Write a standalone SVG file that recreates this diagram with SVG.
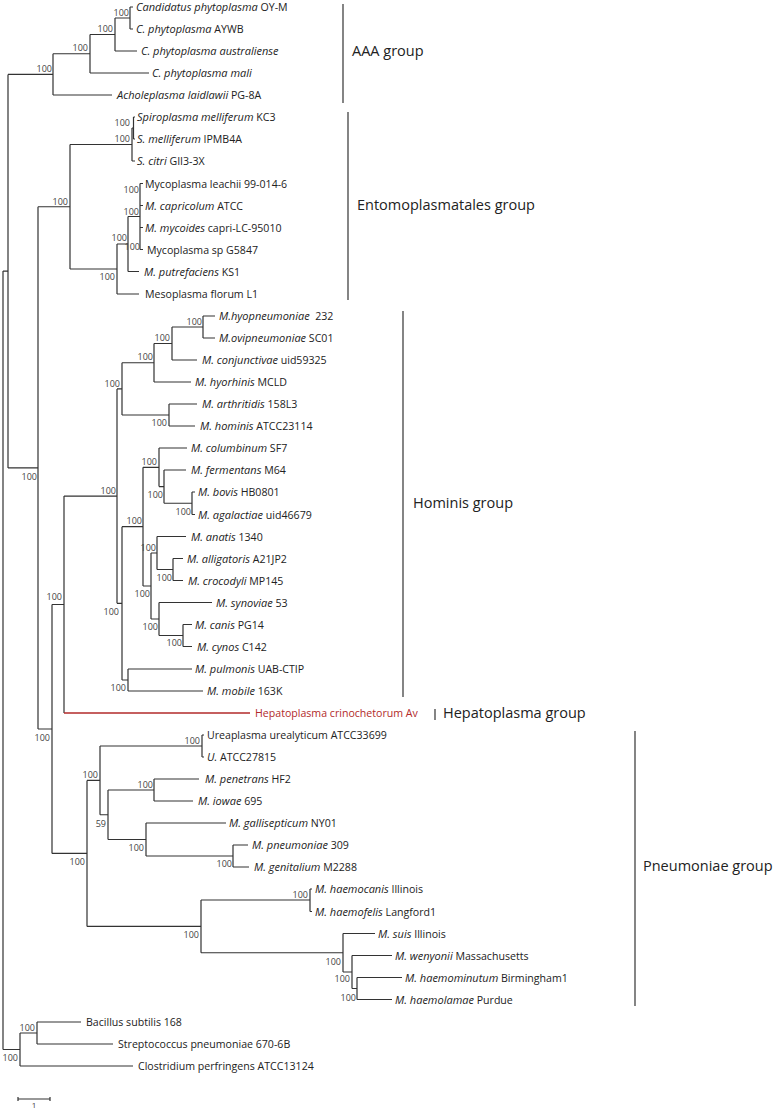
<svg xmlns="http://www.w3.org/2000/svg" width="775" height="1110" viewBox="0 0 775 1110">
<style>
.b{fill:none;stroke:#333;stroke-width:1.2}
.r{fill:none;stroke:#b22a2a;stroke-width:1.5}
.t{font-family:"Open Sans","Noto Sans","DejaVu Sans",sans-serif;font-size:10.6px;fill:#222}
.i{font-style:italic;font-size:11px}
.bs{font-family:"Open Sans","Noto Sans","DejaVu Sans",sans-serif;font-size:9px;fill:#444;text-anchor:end}
.g{font-family:"Open Sans","Noto Sans","DejaVu Sans",sans-serif;font-size:14.5px;fill:#222}
.red{fill:#b22a2a}
</style>
<rect width="775" height="1110" fill="#fff"/>
<g id="connectors" class="b">
<path d="M130,7V29M130,7H133M130,29H133"/>
<path d="M115,18V51M115,18H130M115,51H137"/>
<path d="M90,34.5V73M90,34.5H115M90,73H149"/>
<path d="M53,53.75V95M53,53.75H90M53,95H112"/>
<path d="M8,74.4V467.9M8,74.4H53M8,467.9H38"/>
<path d="M3,271.1V1049.5M3,271.1H8M3,1049.5H20"/>
<path d="M38,206.75V729M38,206.75H70M38,729H52"/>
<path d="M70,144.5V269M70,144.5H132M70,269H117"/>
<path d="M132,128V161M132,128H133.5M132,161H135"/>
<path d="M133.5,117V139M133.5,117H135M133.5,139H135"/>
<path d="M117,244V294M117,244H128M117,294H139"/>
<path d="M128,216.5V271.5M128,216.5H140M128,271.5H139"/>
<path d="M140,183.5V249.5M140,183.5H143M140,205.5H143M140,227.5H143M140,249.5H143"/>
<path d="M52,604.5V853.4M52,604.5H64M52,853.4H87"/>
<path d="M64,496.1V713M64,496.1H117"/>
<path d="M117,388.9V603.3M117,388.9H122M117,603.3H122"/>
<path d="M122,362.75V415M122,362.75H154M122,415H169"/>
<path d="M154,343.5V382M154,343.5H172M154,382H191"/>
<path d="M172,327V360M172,327H203M172,360H197"/>
<path d="M203,316V338M203,316H215M203,338H215"/>
<path d="M169,404V426M169,404H197M169,426H195"/>
<path d="M122,526.7V680M122,526.7H143M122,680H128"/>
<path d="M143,467.3V586M143,467.3H159M143,586H151"/>
<path d="M159,448V486.6M159,448H187M159,486.6H164"/>
<path d="M164,470V503.25M164,470H186M164,503.25H192"/>
<path d="M192,492V514.5M192,492H195M192,514.5H195"/>
<path d="M151,553V619M151,553H157M151,619H159"/>
<path d="M157,536.5V569.5M157,536.5H186M157,569.5H173"/>
<path d="M173,558.5V580.5M173,558.5H183M173,580.5H183"/>
<path d="M159,602.5V635.5M159,602.5H212M159,635.5H183"/>
<path d="M183,624.5V646.5M183,624.5H192M183,646.5H192"/>
<path d="M128,669V691M128,669H192M128,691H203"/>
<path d="M87,780.4V926.4M87,780.4H100M87,926.4H201"/>
<path d="M100,746V814.75M100,746H202M100,814.75H108"/>
<path d="M202,735V757M202,735H204M202,757H204"/>
<path d="M108,790V839.5M108,790H154M108,839.5H146"/>
<path d="M154,779V801M154,779H199M154,801H193"/>
<path d="M146,823V856M146,823H226M146,856H233"/>
<path d="M233,845V867M233,845H248M233,867H249"/>
<path d="M201,900V952.75M201,900H310M201,952.75H343"/>
<path d="M310,889V911.5M310,889H312M310,911.5H312"/>
<path d="M343,933.5V972M343,933.5H375M343,972H352"/>
<path d="M352,955.5V988.5M352,955.5H392M352,988.5H357"/>
<path d="M357,977.5V999.5M357,977.5H402M357,999.5H392"/>
<path d="M20,1033V1066M20,1033H37M20,1066H133"/>
<path d="M37,1022V1044M37,1022H81M37,1044H113"/>
<path class="r" d="M64,713H250"/>
</g>
<g id="bootstrap">
<text class="bs" x="129" y="15.5">100</text>
<text class="bs" x="113" y="32">100</text>
<text class="bs" x="88" y="51.2">100</text>
<text class="bs" x="52" y="72">100</text>
<text class="bs" x="130" y="126">100</text>
<text class="bs" x="130" y="142">100</text>
<text class="bs" x="139" y="193">100</text>
<text class="bs" x="139" y="215">100</text>
<text class="bs" x="140" y="250">100</text>
<text class="bs" x="127" y="241">100</text>
<text class="bs" x="115" y="280">100</text>
<text class="bs" x="68" y="205">100</text>
<text class="bs" x="37" y="480">100</text>
<text class="bs" x="202" y="325">100</text>
<text class="bs" x="170" y="341">100</text>
<text class="bs" x="153" y="360">100</text>
<text class="bs" x="167" y="426">100</text>
<text class="bs" x="120" y="387">100</text>
<text class="bs" x="191" y="515">100</text>
<text class="bs" x="163" y="498">100</text>
<text class="bs" x="157" y="465">100</text>
<text class="bs" x="172" y="581">100</text>
<text class="bs" x="156" y="551">100</text>
<text class="bs" x="182" y="646">100</text>
<text class="bs" x="158" y="630">100</text>
<text class="bs" x="150" y="597">100</text>
<text class="bs" x="142" y="524">100</text>
<text class="bs" x="126" y="691">100</text>
<text class="bs" x="119" y="615">100</text>
<text class="bs" x="116" y="494">100</text>
<text class="bs" x="62" y="600">100</text>
<text class="bs" x="200" y="744">100</text>
<text class="bs" x="153" y="788">100</text>
<text class="bs" x="232" y="867">100</text>
<text class="bs" x="144" y="851">100</text>
<text class="bs" x="106" y="827">59</text>
<text class="bs" x="98" y="778">100</text>
<text class="bs" x="308" y="898">100</text>
<text class="bs" x="356" y="1001">100</text>
<text class="bs" x="350" y="982">100</text>
<text class="bs" x="341" y="965">100</text>
<text class="bs" x="199" y="938">100</text>
<text class="bs" x="85" y="865">100</text>
<text class="bs" x="50" y="741">100</text>
<text class="bs" x="35" y="1031">100</text>
<text class="bs" x="18" y="1061">100</text>
</g>
<g id="leaves" class="t">
<g id="n1"><text x="136" y="11"><tspan class="i">Candidatus phytoplasma</tspan> OY-M</text></g>
<g id="n2"><text x="136" y="33"><tspan class="i">C. phytoplasma</tspan> AYWB</text></g>
<g id="n3"><text x="141" y="55"><tspan class="i">C. phytoplasma australiense</tspan></text></g>
<g id="n4"><text x="152" y="77"><tspan class="i">C. phytoplasma mali</tspan></text></g>
<g id="n5"><text x="117" y="99"><tspan class="i">Acholeplasma laidlawii</tspan> PG-8A</text></g>
<g id="n6"><text x="137" y="121"><tspan class="i">Spiroplasma melliferum</tspan> KC3</text></g>
<g id="n7"><text x="137" y="143"><tspan class="i">S. melliferum</tspan> IPMB4A</text></g>
<g id="n8"><text x="137" y="165"><tspan class="i">S. citri</tspan> GII3-3X</text></g>
<g id="n9"><text x="145" y="187.5">Mycoplasma leachii 99-014-6</text></g>
<g id="n10"><text x="145" y="209.5"><tspan class="i">M. capricolum</tspan> ATCC</text></g>
<g id="n11"><text x="145" y="231.5"><tspan class="i">M. mycoides</tspan> capri-LC-95010</text></g>
<g id="n12"><text x="147" y="253.5">Mycoplasma sp G5847</text></g>
<g id="n13"><text x="144" y="275.5"><tspan class="i">M. putrefaciens</tspan> KS1</text></g>
<g id="n14"><text x="145" y="298">Mesoplasma florum L1</text></g>
<g id="n15"><text x="219" y="320"><tspan class="i">M.hyopneumoniae</tspan>&#160; 232</text></g>
<g id="n16"><text x="219" y="342"><tspan class="i">M.ovipneumoniae</tspan> SC01</text></g>
<g id="n17"><text x="202" y="364"><tspan class="i">M. conjunctivae</tspan> uid59325</text></g>
<g id="n18"><text x="195" y="386"><tspan class="i">M. hyorhinis</tspan> MCLD</text></g>
<g id="n19"><text x="202" y="408"><tspan class="i">M. arthritidis</tspan> 158L3</text></g>
<g id="n20"><text x="200" y="430"><tspan class="i">M. hominis</tspan> ATCC23114</text></g>
<g id="n21"><text x="191" y="452"><tspan class="i">M. columbinum</tspan> SF7</text></g>
<g id="n22"><text x="191" y="474"><tspan class="i">M. fermentans</tspan> M64</text></g>
<g id="n23"><text x="198" y="496"><tspan class="i">M. bovis</tspan> HB0801</text></g>
<g id="n24"><text x="198" y="518.5"><tspan class="i">M. agalactiae</tspan> uid46679</text></g>
<g id="n25"><text x="191" y="540.5"><tspan class="i">M. anatis</tspan> 1340</text></g>
<g id="n26"><text x="187" y="562.5"><tspan class="i">M. alligatoris</tspan> A21JP2</text></g>
<g id="n27"><text x="188" y="584.5"><tspan class="i">M. crocodyli</tspan> MP145</text></g>
<g id="n28"><text x="216" y="606.5"><tspan class="i">M. synoviae</tspan> 53</text></g>
<g id="n29"><text x="195" y="628.5"><tspan class="i">M. canis</tspan> PG14</text></g>
<g id="n30"><text x="197" y="650.5"><tspan class="i">M. cynos</tspan> C142</text></g>
<g id="n31"><text x="195" y="673"><tspan class="i">M. pulmonis</tspan> UAB-CTIP</text></g>
<g id="n32"><text x="207" y="695"><tspan class="i">M. mobile</tspan> 163K</text></g>
<g id="n33"><text x="255" y="717" class="red">Hepatoplasma crinochetorum Av</text></g>
<g id="n34"><text x="207" y="739">Ureaplasma urealyticum ATCC33699</text></g>
<g id="n35"><text x="207" y="761"><tspan class="i">U.</tspan> ATCC27815</text></g>
<g id="n36"><text x="205" y="783"><tspan class="i">M. penetrans</tspan> HF2</text></g>
<g id="n37"><text x="198" y="805"><tspan class="i">M. iowae</tspan> 695</text></g>
<g id="n38"><text x="229" y="827"><tspan class="i">M. gallisepticum</tspan> NY01</text></g>
<g id="n39"><text x="252" y="849"><tspan class="i">M. pneumoniae</tspan> 309</text></g>
<g id="n40"><text x="254" y="871"><tspan class="i">M. genitalium</tspan> M2288</text></g>
<g id="n41"><text x="315" y="893"><tspan class="i">M. haemocanis</tspan> Illinois</text></g>
<g id="n42"><text x="315" y="915.5"><tspan class="i">M. haemofelis</tspan> Langford1</text></g>
<g id="n43"><text x="378" y="937.5"><tspan class="i">M. suis</tspan> Illinois</text></g>
<g id="n44"><text x="395" y="959.5"><tspan class="i">M. wenyonii</tspan> Massachusetts</text></g>
<g id="n45"><text x="405" y="981.5"><tspan class="i">M. haemominutum</tspan> Birmingham1</text></g>
<g id="n46"><text x="395" y="1003.5"><tspan class="i">M. haemolamae</tspan> Purdue</text></g>
<g id="n47"><text x="86" y="1026">Bacillus subtilis 168</text></g>
<g id="n48"><text x="118" y="1048">Streptococcus pneumoniae 670-6B</text></g>
<g id="n49"><text x="138" y="1070">Clostridium perfringens ATCC13124</text></g>
</g>
<g id="groups">
<g id="g-aaa"><path class="b" d="M343,4V103"/><text class="g" x="352" y="56">AAA group</text></g>
<g id="g-ento"><path class="b" d="M348,112V300"/><text class="g" x="357" y="210">Entomoplasmatales group</text></g>
<g id="g-hominis"><path class="b" d="M403,311V697"/><text class="g" x="413" y="508">Hominis group</text></g>
<g id="g-hepato"><path class="b" d="M435,709V720"/><text class="g" x="443" y="718">Hepatoplasma group</text></g>
<g id="g-pneumo"><path class="b" d="M635,731V1006"/><text class="g" x="643" y="871">Pneumoniae group</text></g>
</g>
<g id="scale">
<path class="b" d="M18,1099H50M18,1097V1101M50,1097V1101"/>
<text x="34" y="1108" style="font-family:'Open Sans',sans-serif;font-size:8px;fill:#444;text-anchor:middle">1</text>
</g>
</svg>
